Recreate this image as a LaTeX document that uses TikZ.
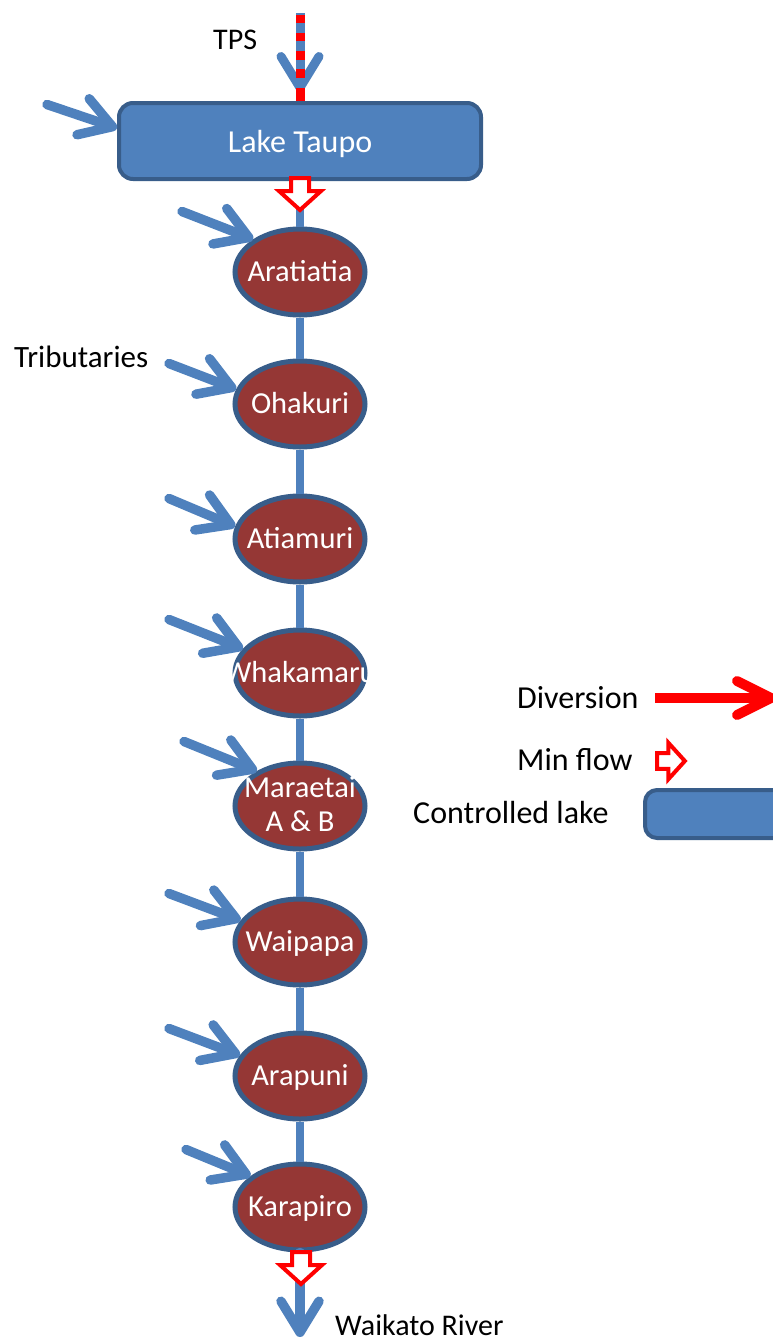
\documentclass[tikz,border=0pt]{standalone}
\usepackage{fontspec}
\setmainfont{Carlito}
\usetikzlibrary{arrows.meta,shapes.geometric}

\definecolor{accblue}{HTML}{4F81BD}
\definecolor{edgeblue}{HTML}{385D8A}
\definecolor{damred}{HTML}{953735}

\tikzset{
  every node/.style={font=\fontsize{30}{36}\selectfont},
  barb/.style={-{Straight Barb[length=31pt,width=38pt,line width=0pt 1,round]}},
  flow/.style={draw=accblue, line width=9.5pt, line cap=round, barb},
  mainline/.style={draw=accblue, line width=8.5pt},
  divert/.style={draw=red, line width=10pt,
    -{Straight Barb[length=34pt,width=34pt,line width=0pt 1,round]}},
  dam/.style={ellipse, draw=edgeblue, fill=damred, line width=5pt,
    minimum width=130pt, minimum height=86pt, inner sep=0pt},
  damtext/.style={text=white, inner sep=0pt, text height=19pt, text depth=0pt,
    font=\fontsize{30.5}{36}\selectfont},
  lakebox/.style={rectangle, rounded corners=14pt, draw=edgeblue, fill=accblue,
    line width=4pt, text=white, inner sep=0pt, text height=22pt, text depth=0pt,
    font=\fontsize{32}{38}\selectfont},
  caption/.style={inner sep=0pt, anchor=base west, text=black},
  keytext/.style={caption, font=\fontsize{32}{38}\selectfont},
  minflow/.pic={
    \draw[red, fill=white, line width=4pt, line join=miter]
      (-9,0) -- (-9,13) -- (-21,13) -- (0,32) -- (21,13) -- (9,13) -- (9,0) -- cycle;
  }
}

\begin{document}
\begin{tikzpicture}[x=1pt, y=-1pt]
  \useasboundingbox (0,0) rectangle (772,1341);

  % controlled lake and the chain of dams
  \node[lakebox, minimum width=362pt, minimum height=76pt] (lake) at (300,141) {Lake Taupo};
  \node[dam] (arat) at (300,272) {};
  \node[dam] (ohak) at (300,404) {};
  \node[dam] (atia) at (300,539) {};
  \node[dam] (whak) at (300,673) {};
  \node[dam] (mara) at (300,806) {};
  \node[dam] (waip) at (300,942) {};
  \node[dam] (arap) at (300,1076) {};
  \node[dam] (kara) at (300,1207) {};

  \node[damtext] (aratL) at (arat) {Aratiatia};
  \node[damtext] (ohakL) at (ohak) {Ohakuri};
  \node[damtext] (atiaL) at (atia) {Atiamuri};
  \begin{scope}
    \clip (232,640) rectangle (368,705);
    \node[damtext] (whakL) at (whak) {Whakamaru};
  \end{scope}
  \node[text=white, inner sep=0pt, align=center, font=\fontsize{30.5}{34}\selectfont]
    (maraL) at (300,804) {Maraetai\\A \& B};
  \node[damtext] (waipL) at (waip) {Waipapa};
  \node[damtext] (arapL) at (arap) {Arapuni};
  \node[damtext] (karaL) at (kara) {Karapiro};

  % river between the stations
  \draw[mainline] (lake) -- (arat) -- (ohak) -- (atia) -- (whak) -- (mara)
    -- (waip) -- (arap) -- (kara);
  \coordinate (river) at (300,1337);
  \draw[flow] (kara) -- (river);

  % TPS diversion into the lake
  \coordinate (tps) at (300,13);
  \draw[flow, line width=9pt, line cap=butt, shorten >=9pt] (tps) -- (lake.north);
  \draw[accblue, line width=9pt] (tps) -- (lake.north);
  \draw[red, line width=9pt,
    dash pattern=on 13pt off 10pt on 9pt off 9.5pt on 9pt off 9.5pt on 8.5pt off 10pt on 8pt off 100pt]
    (lake.north) -- (tps);

  % tributary inflows
  \coordinate (inlake) at (47,104.5);
  \coordinate (in1) at (182,211.5);
  \coordinate (in2) at (169,363.5);
  \coordinate (in3) at (169,498.5);
  \coordinate (in4) at (169,619.5);
  \coordinate (in5) at (184,741.5);
  \coordinate (in6) at (169,893.5);
  \coordinate (in7) at (169,1028.5);
  \coordinate (in8) at (186,1149.5);
  \draw[flow] (inlake) -- (lake.176.5);
  \draw[flow] (in1) -- (arat.145);
  \draw[flow] (in2) -- (ohak.167.5);
  \draw[flow] (in3) -- (atia.169);
  \draw[flow] (in4) -- (whak.157);
  \draw[flow] (in5) -- (mara.141);
  \draw[flow] (in6) -- (waip.160.5);
  \draw[flow] (in7) -- (arap.161.5);
  \draw[flow] (in8) -- (kara.148);

  % minimum flow markers
  \pic at (300,178) {minflow};
  \pic at (301,1252) {minflow};

  % captions
  \node[caption] (tpsL) at (213,49) {TPS};
  \node[caption, font=\fontsize{31}{37}\selectfont] (tribL) at (14,367) {Tributaries};
  \node[caption] (riverL) at (335,1335) {Waikato River};

  % key
  \node[keytext] (keydiv) at (517,708) {Diversion};
  \coordinate (divs) at (655,698);
  \coordinate (dive) at (776,698);
  \draw[divert] (divs) -- (dive);
  \node[keytext] (keymin) at (517,770) {Min flow};
  \pic[rotate=90, scale=0.87] at (657,761) {minflow};
  \node[keytext] (keylakeL) at (413,823) {Controlled lake};
  \node[lakebox, minimum width=160pt, minimum height=48pt, anchor=west, rounded corners=12pt,
    text height=0pt] (keylake) at (643,814) {};
\end{tikzpicture}
\end{document}
